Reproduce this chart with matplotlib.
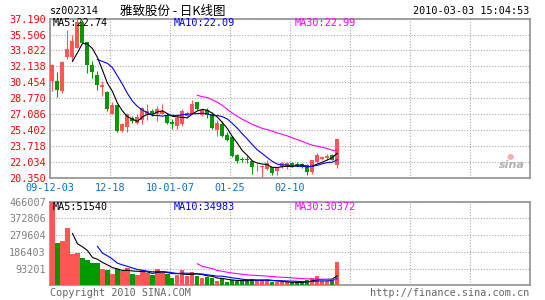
import numpy as np
import pandas as pd
import matplotlib

matplotlib.use('Agg')

import matplotlib.pyplot as plt

# daily candles, 2009-12-03 .. 2010-03-03
opens = [30.56, 30.56, 29.51, 33.09, 33.09, 34.07, 36.88, 34.70, 32.32, 31.19,
         30.00, 29.44, 27.12, 28.04, 25.30, 25.72, 26.70, 26.18, 26.42, 27.05,
         27.40, 27.05, 27.12, 26.88, 26.28, 25.83, 26.00, 26.88, 27.12, 28.39,
         26.98, 27.51, 27.12, 25.37, 26.00, 24.88, 24.67, 22.77, 22.28, 22.28,
         22.07, 21.44, 21.51, 21.27, 21.44, 21.09, 21.44, 21.44, 21.90, 21.76,
         21.76, 21.69, 20.91, 22.04, 22.32, 22.39, 22.74, 21.69]
closes = [32.25, 29.65, 32.63, 33.93, 34.88, 36.81, 34.60, 32.32, 31.54, 30.14,
          30.14, 27.62, 28.04, 25.30, 26.00, 27.12, 26.35, 26.77, 27.69, 27.40,
          27.05, 27.65, 27.40, 26.18, 26.00, 26.70, 27.40, 27.19, 28.18, 27.65,
          27.47, 26.98, 25.58, 26.18, 24.77, 24.32, 22.67, 22.14, 22.21, 22.21,
          21.44, 21.51, 21.62, 21.86, 20.81, 21.37, 21.90, 21.90, 21.55, 21.62,
          21.48, 20.99, 22.18, 22.74, 22.53, 22.67, 22.25, 24.49]
highs = [32.39, 31.50, 32.70, 36.00, 35.47, 37.19, 37.10, 34.70, 32.74, 31.61,
         30.56, 29.58, 28.39, 28.10, 26.18, 27.20, 26.88, 27.05, 27.83, 28.11,
         27.58, 27.90, 28.11, 27.23, 26.53, 27.05, 27.58, 27.40, 28.63, 28.39,
         27.69, 27.76, 27.33, 26.42, 26.35, 25.23, 24.77, 22.84, 22.56, 22.67,
         22.14, 21.79, 21.65, 22.21, 21.51, 21.51, 21.97, 21.97, 21.97, 21.97,
         21.90, 21.76, 22.25, 22.95, 22.60, 22.81, 22.81, 24.49]
lows = [29.51, 28.88, 29.30, 32.95, 32.67, 34.07, 34.60, 31.44, 30.91, 29.65,
        28.98, 27.40, 27.05, 25.20, 25.23, 25.23, 26.18, 26.00, 26.00, 26.49,
        26.88, 26.35, 27.12, 26.07, 25.48, 25.48, 25.83, 26.88, 27.05, 27.47,
        26.88, 26.63, 25.48, 24.77, 24.67, 24.25, 22.56, 21.86, 21.97, 21.86,
        20.74, 21.09, 20.46, 21.16, 20.67, 20.67, 21.34, 21.30, 21.44, 21.55,
        21.34, 20.63, 20.77, 21.90, 22.25, 22.25, 22.18, 21.34]
volumes = [466000, 235800, 245000, 318700, 175000, 180500, 152900, 140000, 125300, 125300,
           92100, 84700, 64500, 90300, 81000, 97600, 64500, 57100, 82900, 70000,
           57100, 90300, 71800, 64500, 42400, 57100, 82900, 51600, 73700, 51600,
           38700, 47900, 38700, 25800, 38700, 16600, 27600, 25800, 25800, 27600,
           33200, 29500, 29500, 29500, 16600, 16600, 16600, 16600, 16600, 16600,
           16600, 27600, 42400, 51700, 22000, 22000, 35000, 130000]

price_ticks = [37.190, 35.506, 33.822, 32.138, 30.454, 28.770, 27.086, 25.402, 23.718, 22.034, 20.350]
vol_ticks = [93201, 186403, 279604, 372806, 466007]
date_idx = [0, 12, 24, 36, 48]
date_labels = ['09-12-03', '12-18', '10-01-07', '01-25', '02-10']

W, H = 545, 300
RED = '#ff5555'
GREEN = '#009900'
GRIDC = '#a8a8a8'
MONO = 'DejaVu Sans Mono'


def box(x0, y0, x1, y1):
    return [x0 / W, 1 - y1 / H, (x1 - x0) / W, (y1 - y0) / H]


fig = plt.figure(figsize=(W / 100, H / 100), dpi=100)
fig.patch.set_facecolor('white')

ax = fig.add_axes(box(50, 18.7, 529.5, 177.7))
axv = fig.add_axes(box(50, 201.5, 529.5, 285.3))

n = len(closes)
x = np.arange(n)
o = np.array(opens)
c = np.array(closes)
up = c >= o
cols = [RED if u else GREEN for u in up]

# wicks + bodies
ax.vlines(x, lows, highs, colors=cols, lw=0.8, zorder=3)
body_bot = np.minimum(o, c)
body_h = np.maximum(np.abs(c - o), 0.07)
ax.bar(x, body_h, bottom=body_bot, width=0.8, color=cols, lw=0, zorder=4)

cs = pd.Series(closes)
ax.plot(x, cs.rolling(5).mean(), color='black', lw=0.8, zorder=5)
ax.plot(x, cs.rolling(10).mean(), color='#0000ff', lw=0.8, zorder=5)
ax.plot(x, cs.rolling(30).mean(), color='#ff00ff', lw=0.8, zorder=5)

axv.bar(x, volumes, width=0.85, color=cols, lw=0, zorder=3)
vs = pd.Series(volumes)
axv.plot(x, vs.rolling(5).mean(), color='black', lw=0.8, zorder=5)
axv.plot(x, vs.rolling(10).mean(), color='#0000ff', lw=0.8, zorder=5)
axv.plot(x, vs.rolling(30).mean(), color='#ff00ff', lw=0.8, zorder=5)

xmin = -0.5
xmax = xmin + 479.5 / 5
grid_x = [xmin + 12 * k for k in range(9)]
for a in (ax, axv):
    a.set_xlim(xmin, xmax)
    for s in a.spines.values():
        s.set_color('#999999')
        s.set_linewidth(1.3)
    a.set_xticks(grid_x)
    a.tick_params(length=0)
    a.grid(True, color=GRIDC, lw=0.8, linestyle=(0, (1, 1.5)))
    a.set_axisbelow(True)

ax.set_ylim(20.350, 37.190)
ax.set_yticks(price_ticks)
ax.set_yticklabels(['%.3f' % v for v in price_ticks], color='#ff0000',
                   fontfamily=MONO, fontsize=7.3)
xl = [''] * len(grid_x)
for k, lab in enumerate(date_labels):
    xl[k] = lab
ax.set_xticklabels(xl, color='#0a6fc2', fontfamily=MONO, fontsize=7.3)
ax.tick_params(axis='y', pad=3)
ax.tick_params(axis='x', pad=3.5)

axv.set_ylim(0, 466007)
axv.set_yticks(vol_ticks)
axv.set_yticklabels([str(v) for v in vol_ticks], color='#808080',
                    fontfamily=MONO, fontsize=7.3)
axv.set_xticklabels([])
axv.tick_params(axis='y', pad=3)


def ftext(px_, py_, s, **kw):
    fig.text(px_ / W, 1 - py_ / H, s, **kw)


ftext(50, 11, 'sz002314', fontfamily=MONO, fontsize=7.3, va='center')
ftext(120, 11, '雅致股份 - 日K线图', family=['Noto Sans CJK SC', 'DejaVu Sans'],
      fontsize=9, va='center')
ftext(529, 11, '2010-03-03 15:04:53', fontfamily=MONO, fontsize=7.3,
      va='center', ha='right')

ftext(53, 23.5, 'MA5:22.74', fontfamily=MONO, fontsize=7.3, va='center', color='black')
ftext(174, 23.5, 'MA10:22.09', fontfamily=MONO, fontsize=7.3, va='center', color='#0000ff')
ftext(295, 23.5, 'MA30:22.99', fontfamily=MONO, fontsize=7.3, va='center', color='#ff00ff')

ftext(53, 206.5, 'MA5:51540', fontfamily=MONO, fontsize=7.3, va='center', color='black')
ftext(174, 206.5, 'MA10:34983', fontfamily=MONO, fontsize=7.3, va='center', color='#0000ff')
ftext(295, 206.5, 'MA30:30372', fontfamily=MONO, fontsize=7.3, va='center', color='#ff00ff')

ftext(50, 293, 'Copyright 2010 SINA.COM', fontfamily=MONO, fontsize=7.3,
      va='center', color='#666666')
ftext(529, 293, 'http://finance.sina.com.cn', fontfamily=MONO, fontsize=7.3,
      va='center', ha='right', color='#666666')

# sina watermark
ftext(512, 165, 'sina', fontsize=8, fontstyle='italic', fontweight='bold',
      color='#b0b0b0', ha='center', va='center')
ftext(510, 156, '●', fontsize=6, color='#f7b0b0', ha='center', va='center')

fig.savefig('out.png', dpi=100)
